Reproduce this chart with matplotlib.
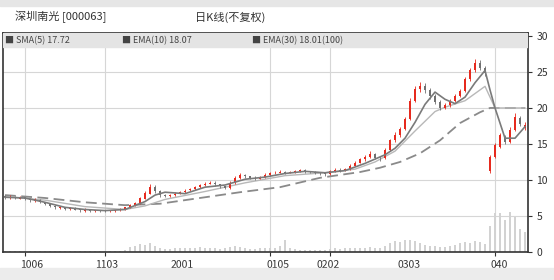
import matplotlib

matplotlib.use("Agg")
import matplotlib.pyplot as plt
from matplotlib.patches import Rectangle

plt.rcParams["font.family"] = ["Noto Sans CJK SC", "DejaVu Sans"]

TITLE_NAME = "深圳南光 [000063]"
TITLE_MODE = "日K线(不复权)"
LEGEND_TEXT = ["■ SMA(5) 17.72", "■ EMA(10) 18.07", "■ EMA(30) 18.01(100)"]

# candles, one per period
opens = [7.7, 7.5, 7.7, 7.4, 7.6, 7.4, 7.1, 7.2, 6.9, 6.6,
         6.4, 6.1, 6.2, 6.0, 6.1, 5.9, 5.7, 5.9, 5.7, 5.8,
         5.8, 5.7, 5.75, 5.8, 6.0, 6.2, 6.5, 6.8, 7.4, 8.1,
         9.0, 8.4, 7.9, 7.8, 7.9, 8.1, 8.3, 8.6, 8.7, 9.0,
         9.3, 9.5, 9.6, 9.4, 9.1, 8.9, 9.6, 10.3, 10.7, 10.5,
         10.3, 10.2, 10.4, 10.7, 10.9, 11.0, 11.1, 11.0, 11.1, 11.2,
         11.3, 11.2, 11.1, 11.0, 10.9, 10.8, 11.2, 11.4, 11.3, 11.5,
         12.0, 12.4, 12.9, 13.2, 13.6, 13.1, 13.0, 14.2, 15.5, 16.2,
         17.1, 18.5, 21.0, 22.6, 23.0, 22.5, 21.6, 20.8, 20.0, 20.4,
         21.0, 21.7, 22.4, 24.0, 25.2, 26.2, 25.5, 11.3, 13.2, 14.6,
         16.0, 15.3, 17.0, 18.6, 17.2]
closes = [7.6, 7.7, 7.5, 7.6, 7.4, 7.2, 7.3, 6.9, 6.6, 6.4,
          6.2, 6.2, 6.0, 6.1, 5.9, 5.8, 5.9, 5.7, 5.8, 5.7,
          5.7, 5.8, 5.8, 6.0, 6.2, 6.5, 6.8, 7.5, 8.2, 9.0,
          8.4, 7.9, 7.8, 7.9, 8.1, 8.3, 8.5, 8.7, 9.0, 9.3,
          9.5, 9.6, 9.4, 9.1, 8.9, 9.6, 10.3, 10.7, 10.5, 10.3,
          10.2, 10.4, 10.7, 10.9, 11.0, 11.1, 11.0, 11.1, 11.2, 11.3,
          11.2, 11.1, 11.0, 10.9, 10.8, 11.2, 11.4, 11.3, 11.5, 12.0,
          12.4, 12.9, 13.2, 13.6, 13.1, 13.0, 14.2, 15.5, 16.2, 17.1,
          18.5, 21.0, 22.6, 23.0, 22.5, 21.6, 20.8, 20.0, 20.4, 21.0,
          21.7, 22.4, 24.0, 25.2, 26.2, 25.5, 24.8, 13.2, 14.8, 16.2,
          15.3, 17.0, 18.8, 17.8, 17.6]
highs = [7.9, 7.9, 7.8, 7.8, 7.7, 7.5, 7.5, 7.3, 7.0, 6.7,
         6.5, 6.4, 6.3, 6.3, 6.2, 6.0, 6.1, 6.0, 5.9, 5.9,
         5.9, 5.9, 5.9, 6.1, 6.3, 6.6, 6.9, 7.7, 8.4, 9.5,
         9.3, 8.6, 8.1, 8.1, 8.3, 8.5, 8.7, 8.9, 9.2, 9.5,
         9.7, 9.9, 9.8, 9.5, 9.2, 9.8, 10.5, 11.0, 10.8, 10.6,
         10.5, 10.6, 10.9, 11.1, 11.2, 11.4, 11.3, 11.3, 11.4, 11.5,
         11.5, 11.3, 11.2, 11.1, 11.0, 11.4, 11.6, 11.6, 11.7, 12.2,
         12.6, 13.1, 13.4, 14.0, 13.8, 13.3, 14.4, 15.7, 16.6, 17.4,
         18.8, 21.4, 23.0, 23.6, 23.4, 22.8, 21.9, 21.1, 20.7, 21.3,
         22.0, 22.7, 24.3, 25.5, 26.8, 26.6, 25.8, 13.5, 15.1, 16.5,
         16.2, 17.3, 19.3, 18.9, 18.0]
lows = [7.4, 7.4, 7.3, 7.3, 7.2, 7.0, 7.0, 6.8, 6.5, 6.2,
        6.0, 6.0, 5.9, 5.9, 5.8, 5.6, 5.6, 5.6, 5.6, 5.5,
        5.6, 5.6, 5.6, 5.7, 5.9, 6.1, 6.4, 6.7, 7.3, 8.0,
        8.2, 7.7, 7.6, 7.6, 7.8, 8.0, 8.2, 8.4, 8.6, 8.9,
        9.2, 9.4, 9.2, 8.9, 8.7, 8.8, 9.5, 10.2, 10.3, 10.1,
        10.0, 10.1, 10.3, 10.6, 10.8, 10.9, 10.8, 10.9, 11.0, 11.1,
        11.0, 10.9, 10.8, 10.7, 10.6, 10.7, 11.1, 11.1, 11.2, 11.4,
        11.9, 12.3, 12.7, 13.1, 12.9, 12.7, 12.9, 14.0, 15.3, 16.0,
        16.9, 18.3, 20.8, 22.2, 22.1, 21.3, 20.5, 19.7, 19.8, 20.2,
        20.8, 21.5, 22.2, 23.8, 25.0, 25.2, 24.4, 10.9, 13.0, 14.4,
        15.0, 15.1, 16.8, 17.5, 17.0]
volumes = [0.1, 0.1, 0.15, 0.1, 0.1, 0.15, 0.1, 0.1, 0.1, 0.15,
           0.1, 0.1, 0.1, 0.1, 0.1, 0.1, 0.15, 0.1, 0.1, 0.1,
           0.1, 0.1, 0.15, 0.2, 0.3, 0.7, 0.9, 1.1, 1.0, 1.2,
           0.8, 0.5, 0.4, 0.4, 0.5, 0.5, 0.6, 0.5, 0.6, 0.7,
           0.6, 0.5, 0.5, 0.4, 0.5, 0.7, 0.8, 0.7, 0.5, 0.4,
           0.4, 0.5, 0.6, 0.6, 0.5, 0.8, 1.6, 0.6, 0.4, 0.3,
           0.3, 0.3, 0.3, 0.3, 0.3, 0.4, 0.5, 0.4, 0.5, 0.6,
           0.5, 0.6, 0.6, 0.7, 0.6, 0.5, 0.9, 1.2, 1.5, 1.4,
           1.6, 1.7, 1.5, 1.3, 1.0, 0.9, 0.8, 0.7, 0.7, 0.8,
           1.0, 1.2, 1.4, 1.3, 1.5, 1.4, 1.1, 3.6, 5.4, 5.4,
           4.4, 5.6, 4.9, 3.2, 2.8]

# moving average lines, read at a few points
sma5_idx = [0, 4, 8, 12, 16, 20, 24, 28, 30, 32, 36, 40, 44, 48, 52, 56, 60, 64,
            68, 72, 76, 78, 80, 82, 84, 86, 88, 90, 92, 94, 96, 97, 98, 100, 102, 104]
sma5_val = [7.6, 7.5, 6.9, 6.2, 5.9, 5.75, 5.9, 7.0, 7.9, 8.3, 8.1, 9.0, 9.3, 10.1,
            10.4, 10.9, 11.2, 11.0, 11.3, 12.3, 13.5, 14.4, 15.8, 18.0, 20.5, 22.2,
            21.2, 20.6, 21.5, 23.5, 25.2, 22.5, 20.0, 15.8, 15.8, 17.4]
ema10_idx = [0, 8, 16, 24, 28, 32, 40, 48, 56, 64, 70, 74, 78, 82, 86, 88, 92, 96, 98, 104]
ema10_val = [7.7, 7.2, 6.3, 5.9, 6.4, 7.3, 8.4, 9.6, 10.6, 11.0, 11.5, 12.5, 14.0,
             16.8, 19.5, 20.1, 21.0, 23.0, 20.0, 20.0]
ema30_idx = [0, 8, 16, 24, 31, 39, 47, 55, 63, 71, 75, 79, 83, 87, 91, 95, 97, 104]
ema30_val = [7.9, 7.5, 6.9, 6.5, 6.7, 7.5, 8.3, 9.0, 10.3, 11.1, 11.7, 12.5, 13.7,
             15.5, 17.9, 19.4, 20.0, 20.0]

date_ticks = [4, 20, 53, 65, 98]
date_labels = ["1006", "1103", "2001", "0105", "0202", "0303", "040"]
date_label_pos = [5.4, 20.4, 35.4, 54.6, 64.6, 80.8, 98.8]
price_ticks = [0, 5, 10, 15, 20, 25, 30]

RED = "#e62a1e"
DOWN = "#707070"

fig = plt.figure(figsize=(5.54, 2.80), dpi=100, facecolor="white")
fig.patches.append(Rectangle((0, 0.978), 1, 0.022, transform=fig.transFigure,
                             color="#e6e6e6", zorder=0))
fig.patches.append(Rectangle((0, 0), 1, 0.043, transform=fig.transFigure,
                             color="#ececec", zorder=0))

ax = fig.add_axes([0.0054, 0.10, 0.9477, 0.782])
n = len(closes)
xs = list(range(n))
ax.set_xlim(-0.4, n - 0.4)
ax.set_ylim(0, 30.4)

ax.bar(xs, volumes, width=0.35, color="#d2d2d2", zorder=1)

for i in xs:
    up = closes[i] >= opens[i]
    color = RED if up else DOWN
    ax.vlines(i, lows[i], highs[i], color=color, lw=0.6, zorder=3)
    body = abs(closes[i] - opens[i])
    ax.bar(i, max(body, 0.12), bottom=min(opens[i], closes[i]), width=0.55,
           color=color, zorder=4, linewidth=0)

ax.plot(ema30_idx, ema30_val, color="#8a8a8a", lw=1.3, ls=(0, (6, 3)), zorder=2)
ax.plot(ema10_idx, ema10_val, color="#b8b8b8", lw=1.0, zorder=2)
ax.plot(sma5_idx, sma5_val, color="#7a7a7a", lw=1.2, zorder=5)

ax.set_yticks(price_ticks)
ax.set_yticklabels([str(v) for v in price_ticks])
ax.yaxis.tick_right()
ax.tick_params(axis="y", labelsize=7.5, colors="#333333", length=3, pad=3)
ax.set_xticks(date_ticks)
ax.set_xticklabels([])
ax.tick_params(axis="x", length=3, colors="#333333")
ax.grid(True, color="#d6d6d6", lw=0.8)
ax.set_axisbelow(True)
for side in ["left", "right", "top", "bottom"]:
    ax.spines[side].set_color("#333333")
    ax.spines[side].set_linewidth(1.2)

# legend band across the top of the plot
ax.add_patch(Rectangle((0, 0.936), 1, 0.064, transform=ax.transAxes,
                       color="#e4e4e4", zorder=6))
for x_px, label in zip([5, 122, 252], LEGEND_TEXT):
    fig.text(x_px / 554, 1 - 41 / 280, label, fontsize=6.5, color="#444444",
             va="center", ha="left", zorder=7)

for pos, label in zip(date_label_pos, date_labels):
    ax.text(pos, -0.035, label, transform=ax.get_xaxis_transform(), fontsize=7.5,
            color="#333333", ha="center", va="top")

fig.text(15 / 554, 1 - 17 / 280, TITLE_NAME, fontsize=8, color="#333333", va="center")
fig.text(195 / 554, 1 - 17 / 280, TITLE_MODE, fontsize=8, color="#333333", va="center")

fig.savefig("out.png", dpi=100, facecolor="white")
